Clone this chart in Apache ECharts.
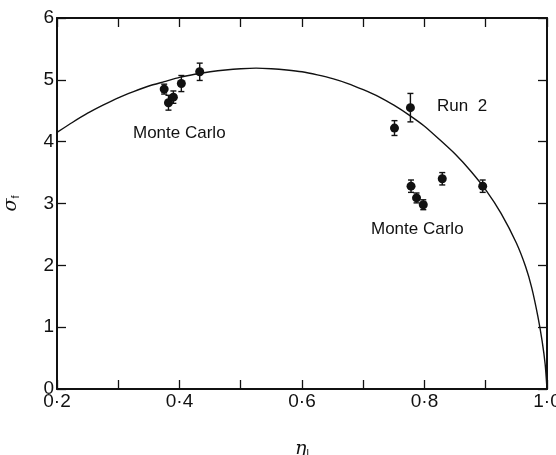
<!DOCTYPE html>
<html>
<head>
<meta charset="utf-8">
<script src="https://cdn.jsdelivr.net/npm/echarts@6/dist/echarts.min.js"></script>
<style>
  html, body { margin: 0; padding: 0; background: #fff; }
  #chart { width: 556px; height: 455px; }
</style>
</head>
<body>
<div id="chart"></div>
<script>
// Fitted curve sigma_f(eta_l)
const curveEta = [
  0.200, 0.225, 0.250, 0.275, 0.300, 0.325, 0.350, 0.375, 0.400, 0.425,
  0.450, 0.475, 0.500, 0.525, 0.550, 0.575, 0.600, 0.625, 0.650, 0.675,
  0.700, 0.725, 0.750, 0.775, 0.800, 0.825, 0.850, 0.875, 0.900, 0.925,
  0.950, 0.965, 0.975, 0.985, 0.992, 0.997, 1.000
];
const curveSigma = [
  4.15, 4.31, 4.46, 4.59, 4.71, 4.81, 4.90, 4.97, 5.04, 5.09,
  5.13, 5.16, 5.18, 5.19, 5.18, 5.16, 5.13, 5.08, 5.02, 4.94,
  4.84, 4.73, 4.59, 4.43, 4.25, 4.03, 3.80, 3.53, 3.22, 2.84,
  2.36, 1.98, 1.64, 1.18, 0.78, 0.40, 0.00
];

// Measured points with symmetric errors
const pointEta   = [0.375, 0.382, 0.390, 0.403, 0.433, 0.751, 0.777, 0.778, 0.787, 0.798, 0.829, 0.895];
const pointSigma = [4.85, 4.63, 4.72, 4.94, 5.13, 4.22, 4.55, 3.28, 3.09, 2.98, 3.40, 3.28];
const pointErr   = [0.08, 0.12, 0.10, 0.13, 0.14, 0.12, 0.23, 0.10, 0.08, 0.08, 0.10, 0.10];

// Axis ticks
const xTickLabels = ['0·2', '0·4', '0·6', '0·8', '1·0'];
const yTickLabels = ['0', '1', '2', '3', '4', '5', '6'];

const FONT = '"Liberation Sans", Arial, sans-serif';
const INK = '#111';

const curveData = curveEta.map((x, i) => [x, curveSigma[i]]);
const pointData = pointEta.map((x, i) => [x, pointSigma[i]]);
const errData = pointEta.map((x, i) => [x, pointSigma[i], pointSigma[i] - pointErr[i], pointSigma[i] + pointErr[i]]);

function xLabel(v) {
  const k = Math.round(v * 10);
  if (k % 2) return '';
  return xTickLabels[(k - 2) / 2] || '';
}

const baseX = {
  type: 'value', min: 0.2, max: 1.0, interval: 0.1,
  axisLine: { show: true, onZero: false, lineStyle: { color: INK, width: 2 } },
  axisTick: { show: true, inside: true, length: 9, lineStyle: { color: INK, width: 1.3 } },
  splitLine: { show: false }
};
const baseY = {
  type: 'value', min: 0, max: 6, interval: 1,
  axisLine: { show: true, onZero: false, lineStyle: { color: INK, width: 2 } },
  axisTick: { show: true, inside: true, length: 9, lineStyle: { color: INK, width: 1.3 } },
  splitLine: { show: false }
};

const chart = echarts.init(document.getElementById('chart'), null, { renderer: 'canvas' });
chart.setOption({
  animation: false,
  backgroundColor: '#fff',
  grid: { left: 57, right: 9, top: 18, bottom: 66, containLabel: false, outerBoundsMode: 'none' },
  xAxis: [
    Object.assign({}, baseX, {
      position: 'bottom',
      axisLabel: { formatter: xLabel, color: INK, fontFamily: FONT, fontSize: 19, margin: 3 },
      name: '{e|η}{s|l}', nameLocation: 'middle', nameGap: 50,
      nameTextStyle: {
        rich: {
          e: { fontFamily: '"DejaVu Serif", serif', fontSize: 19, color: INK, fontStyle: 'italic' },
          s: { fontFamily: FONT, fontSize: 11, color: INK, verticalAlign: 'bottom', padding: [9, 0, 0, 0] }
        }
      }
    }),
    Object.assign({}, baseX, { position: 'top', axisLabel: { show: false } })
  ],
  yAxis: [
    Object.assign({}, baseY, {
      position: 'left',
      axisLabel: {
        formatter: v => yTickLabels[v] || '', color: INK, fontFamily: FONT, fontSize: 19, margin: 3
      },
      name: '{e|σ}{s|f}', nameLocation: 'middle', nameGap: 36, nameRotate: 90,
      nameTextStyle: {
        rich: {
          e: { fontFamily: '"DejaVu Serif", serif', fontSize: 19, color: INK, fontStyle: 'italic' },
          s: { fontFamily: FONT, fontSize: 11, color: INK, padding: [9, 0, 0, 0] }
        }
      }
    }),
    Object.assign({}, baseY, { position: 'right', axisLabel: { show: false } })
  ],
  series: [
    {
      type: 'line', data: curveData, smooth: 0.2, showSymbol: false,
      lineStyle: { color: INK, width: 1.4 }, z: 2
    },
    {
      type: 'custom', data: errData, z: 3,
      renderItem: function (params, api) {
        const x = api.value(0);
        const top = api.coord([x, api.value(3)]);
        const bot = api.coord([x, api.value(2)]);
        const cap = 3;
        const style = { stroke: INK, lineWidth: 1.4 };
        return {
          type: 'group',
          children: [
            { type: 'line', shape: { x1: top[0], y1: top[1], x2: bot[0], y2: bot[1] }, style },
            { type: 'line', shape: { x1: top[0] - cap, y1: top[1], x2: top[0] + cap, y2: top[1] }, style },
            { type: 'line', shape: { x1: bot[0] - cap, y1: bot[1], x2: bot[0] + cap, y2: bot[1] }, style }
          ]
        };
      }
    },
    {
      type: 'scatter', data: pointData, symbol: 'circle', symbolSize: 9,
      itemStyle: { color: INK, opacity: 1 }, z: 4
    }
  ],
  graphic: [
    { type: 'text', left: 133, top: 125, style: { text: 'Monte Carlo', font: '17px ' + FONT, fill: INK } },
    { type: 'text', left: 371, top: 221, style: { text: 'Monte Carlo', font: '17px ' + FONT, fill: INK } },
    { type: 'text', left: 437, top: 98, style: { text: 'Run  2', font: '17px ' + FONT, fill: INK } }
  ]
});
</script>
</body>
</html>
